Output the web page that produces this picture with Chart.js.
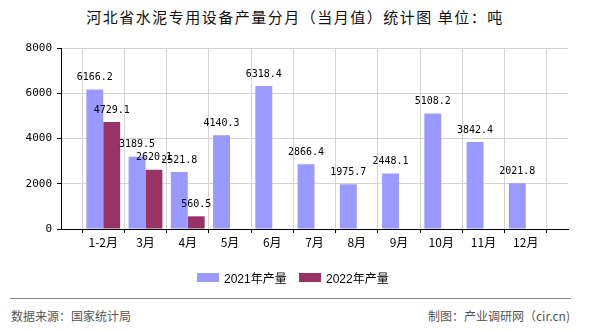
<!DOCTYPE html>
<html>
<head>
<meta charset="utf-8">
<script src="https://cdn.jsdelivr.net/npm/chart.js@4"></script>
<style>
  html, body { margin:0; padding:0; background:#fff; }
  #wrap { position:relative; width:590px; height:330px; overflow:hidden; font-family:"Noto Sans CJK SC", sans-serif; }
  #title { position:absolute; left:0; top:7px; width:590px; text-align:center; font-size:15px; line-height:20px; color:#111; letter-spacing:1.5px; }
  #chartBox { position:absolute; left:0; top:0; width:590px; height:300px; }
  #legend { position:absolute; left:0; top:269px; width:590px; height:16px; }
  .item { position:absolute; top:0; display:flex; align-items:center; height:16px; font:12px "Liberation Sans", "Noto Sans CJK SC", sans-serif; color:#000; white-space:nowrap; }
  .item i { display:inline-block; width:22px; height:9px; margin-right:5px; }
  #rule { position:absolute; left:10px; top:298px; width:561px; height:0; border-top:1px solid #888; }
  .foot { position:absolute; top:308px; font-size:12px; line-height:16px; color:#555; }
  #src { left:11px; }
  #by { right:20px; }
</style>
</head>
<body>
<div id="wrap">
  <div id="title">河北省水泥专用设备产量分月（当月值）统计图 单位：吨</div>
  <div id="chartBox"><canvas id="c"></canvas></div>
  <div id="legend"></div>
  <div id="rule"></div>
  <div class="foot" id="src">数据来源：国家统计局</div>
  <div class="foot" id="by">制图：产业调研网（cir.cn)</div>
</div>
<script>
// categories (empty slot at each end, like the original axis)
const months = ['1-2月','3月','4月','5月','6月','7月','8月','9月','10月','11月','12月'];
const tickLabels = ['', ...months, ''];
const yTicks = [0, 2000, 4000, 6000, 8000];

// monthly output, tonnes
const output2021 = [6166.2, 3189.5, 2521.8, 4140.3, 6318.4, 2866.4, 1975.7, 2448.1, 5108.2, 3842.4, 2021.8];
const output2022 = [4729.1, 2620.1, 560.5];

const pad = arr => [null, ...arr, ...Array(tickLabels.length - 1 - arr.length).fill(null)];

// value labels above each bar
const valueLabels = {
  id: 'valueLabels',
  afterDatasetsDraw(chart) {
    const ctx = chart.ctx;
    ctx.save();
    ctx.font = '10px "DejaVu Sans Mono", monospace';
    ctx.fillStyle = '#000';
    ctx.textAlign = 'center';
    ctx.textBaseline = 'middle';
    chart.data.datasets.forEach((ds, i) => {
      chart.getDatasetMeta(i).data.forEach((bar, j) => {
        const v = ds.data[j];
        if (v == null) return;
        ctx.fillText(v.toFixed(1), bar.x, bar.y - 12);
      });
    });
    ctx.restore();
  }
};

const chart = new Chart(document.getElementById('c'), {
  type: 'bar',
  data: {
    labels: tickLabels,
    datasets: [
      { label: '2021年产量', data: pad(output2021), backgroundColor: '#9999ff', barPercentage: 1, categoryPercentage: 0.8 },
      { label: '2022年产量', data: pad(output2022), backgroundColor: '#993366', barPercentage: 1, categoryPercentage: 0.8 }
    ]
  },
  options: {
    responsive: true, maintainAspectRatio: false, animation: false,
    layout: { padding: { top: 48, left: 0, right: 22, bottom: 39 } },
    plugins: { legend: { display: false }, tooltip: { enabled: false } },
    scales: {
      x: {
        offset: false,
        grid: { color: '#d4d4d4', tickColor: '#000', tickLength: 4 },
        border: { color: '#000' },
        ticks: { color: '#000', padding: 2, maxRotation: 0, autoSkip: false,
                 font: { family: '"Noto Sans CJK SC", sans-serif', size: 12 } },
        afterFit: s => { s.height = 32; }
      },
      y: {
        min: 0, max: 8000,
        afterBuildTicks: s => { s.ticks = yTicks.map(v => ({ value: v })); },
        grid: { color: '#d4d4d4', tickColor: '#000', tickLength: 4 },
        border: { color: '#000' },
        ticks: { color: '#000', padding: 5, callback: v => String(v),
                 font: { family: '"DejaVu Sans Mono", monospace', size: 11 } },
        afterFit: s => { s.width = 61; }
      }
    }
  },
  plugins: [valueLabels]
});

// html legend built from the datasets
const legendX = [197, 299];
const legend = document.getElementById('legend');
chart.data.datasets.forEach((ds, i) => {
  const it = document.createElement('div');
  it.className = 'item';
  it.style.left = legendX[i] + 'px';
  it.innerHTML = `<i style="background:${ds.backgroundColor}"></i>${ds.label}`;
  legend.appendChild(it);
});
</script>
</body>
</html>
